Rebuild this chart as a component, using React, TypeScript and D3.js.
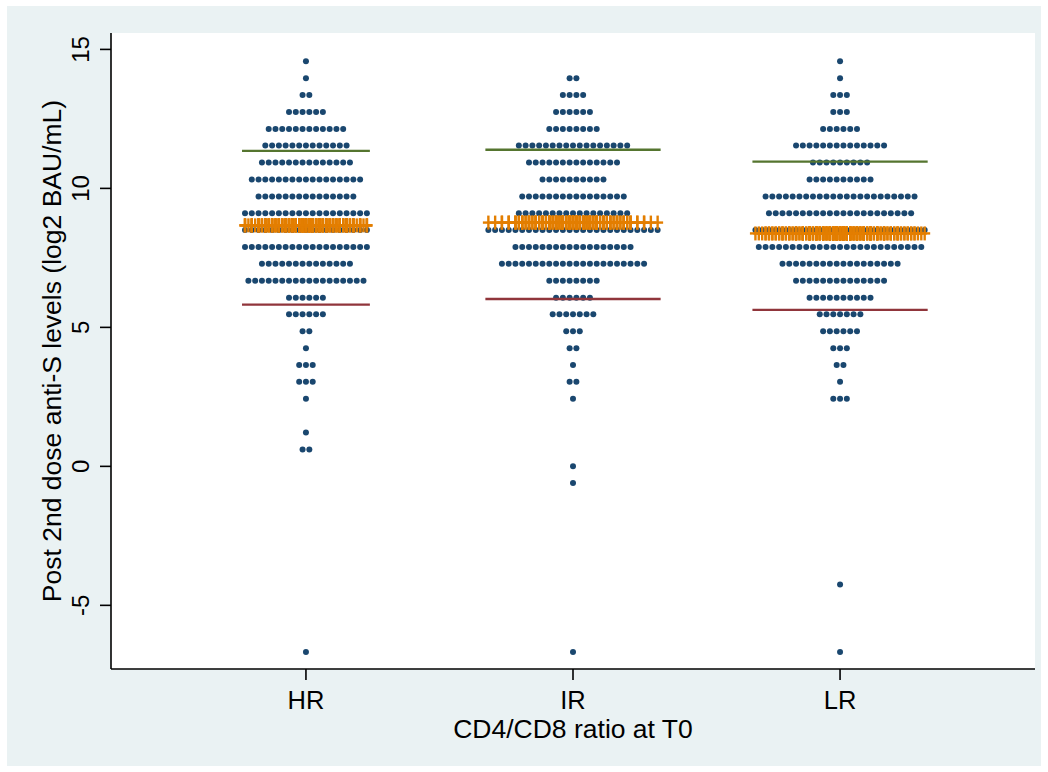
import React from "react";
import * as d3 from "d3";

// Row (bin) values of the dot plot, top to bottom
const levels = [
  14.57, 13.96, 13.36, 12.75, 12.14, 11.54, 10.93, 10.32, 9.71, 9.11, 8.5, 7.89,
  7.29, 6.68, 6.07, 5.47, 4.86, 4.25, 3.65, 3.04, 2.43, 1.83, 1.22, 0.61, 0.0,
  -0.6, -1.21, -1.82, -2.43, -3.03, -3.64, -4.25, -4.85, -5.46, -6.07, -6.68,
];

// Number of observations at each level, per group
const hrCounts = [1, 1, 2, 6, 12, 13, 14, 17, 15, 19, 19, 19, 14, 18, 6, 6, 2, 1, 3, 3, 1, 0, 1, 2, 0, 0, 0, 0, 0, 0, 0, 0, 0, 0, 0, 1];
const irCounts = [0, 2, 4, 6, 8, 17, 14, 10, 16, 17, 26, 18, 22, 8, 6, 7, 3, 2, 1, 2, 1, 0, 0, 0, 1, 1, 0, 0, 0, 0, 0, 0, 0, 0, 0, 1];
const lrCounts = [1, 1, 3, 3, 6, 14, 9, 10, 23, 22, 26, 25, 18, 14, 10, 7, 6, 3, 2, 1, 3, 0, 0, 0, 0, 0, 0, 0, 0, 0, 0, 1, 0, 0, 0, 1];

const groups = ["HR", "IR", "LR"];
const groupCounts = [hrCounts, irCounts, lrCounts];
const means = [8.67, 8.77, 8.38];
const upperBars = [11.35, 11.39, 10.96];
const lowerBars = [5.82, 6.02, 5.63];
const yTicks = [-5, 0, 5, 10, 15];

const xTitle = "CD4/CD8 ratio at T0";
const yTitle = "Post 2nd dose anti-S levels (log2 BAU/mL)";

const NAVY = "#1a476f";
const MAROON = "#90353b";
const GREEN = "#55752f";
const ORANGE = "#e37e00";
const FONT = "'Liberation Sans', Arial, Helvetica, sans-serif";

export default function App() {
  const W = 1048;
  const H = 772;
  const left = 111;
  const right = 1035;
  const top = 33;
  const bottom = 669;
  const x = d3.scaleLinear().domain([0.27, 3.73]).range([left, right]);
  const y = d3.scaleLinear().domain([-7.29, 15.59]).range([bottom, top]);
  const step = 6.77; // horizontal spacing between stacked dots (px)
  const r = 3;

  const dots: { gx: number; cx: number; cy: number; g: number }[] = [];
  groupCounts.forEach((counts, g) => {
    const cx0 = x(g + 1);
    counts.forEach((n, k) => {
      for (let i = 0; i < n; i++) {
        dots.push({ g, gx: cx0, cx: cx0 + (i - (n - 1) / 2) * step, cy: y(levels[k]) });
      }
    });
  });

  const halfWidths = groupCounts.map((c) => ((d3.max(c) as number) - 1) / 2 * step + 3);

  return (
    <svg
      width={W}
      height={H}
      style={{ position: "absolute", left: 0, top: 0, background: "#ffffff" }}
      fontFamily={FONT}
    >
      <rect x={7} y={6} width={1034} height={760} fill="#eaf2f3" />
      <rect x={left} y={top} width={right - left} height={bottom - top} fill="#ffffff" />

      {/* dots */}
      {dots.map((d, i) => (
        <circle key={"d" + i} cx={d.cx} cy={d.cy} r={r} fill={NAVY} />
      ))}

      {/* shoulder bars */}
      {groups.map((g, i) => (
        <g key={"b" + g}>
          <line x1={x(i + 1) - halfWidths[i]} x2={x(i + 1) + halfWidths[i]} y1={y(upperBars[i])} y2={y(upperBars[i])} stroke={GREEN} strokeWidth={2.3} />
          <line x1={x(i + 1) - halfWidths[i]} x2={x(i + 1) + halfWidths[i]} y1={y(lowerBars[i])} y2={y(lowerBars[i])} stroke={MAROON} strokeWidth={2.3} />
        </g>
      ))}

      {/* mean pluses */}
      {dots.map((d, i) => {
        const my = y(means[d.g]);
        return (
          <g key={"p" + i} stroke={ORANGE} strokeWidth={2.4}>
            <line x1={d.cx - 5.5} x2={d.cx + 5.5} y1={my} y2={my} />
            <line x1={d.cx} x2={d.cx} y1={my - 7} y2={my + 7} />
          </g>
        );
      })}

      {/* y axis */}
      <line x1={left} x2={left} y1={top} y2={bottom} stroke="#000" strokeWidth={1.6} />
      {yTicks.map((t) => (
        <g key={"yt" + t}>
          <line x1={left - 11} x2={left} y1={y(t)} y2={y(t)} stroke="#000" strokeWidth={1.6} />
          <text
            transform={`translate(${89},${y(t)}) rotate(-90)`}
            textAnchor="middle"
            fontSize={24}
            fill="#000"
          >
            {t}
          </text>
        </g>
      ))}
      <text
        transform={`translate(${61},${(top + bottom) / 2}) rotate(-90)`}
        textAnchor="middle"
        fontSize={26.5}
        fill="#000"
      >
        {yTitle}
      </text>

      {/* x axis */}
      <line x1={left} x2={right} y1={bottom} y2={bottom} stroke="#000" strokeWidth={1.6} />
      {groups.map((g, i) => (
        <g key={"xt" + g}>
          <line x1={x(i + 1)} x2={x(i + 1)} y1={bottom} y2={bottom + 11} stroke="#000" strokeWidth={1.6} />
          <text x={x(i + 1)} y={709} textAnchor="middle" fontSize={25.5} fill="#000">
            {g}
          </text>
        </g>
      ))}
      <text x={(left + right) / 2} y={738} textAnchor="middle" fontSize={26.5} fill="#000">
        {xTitle}
      </text>
    </svg>
  );
}
